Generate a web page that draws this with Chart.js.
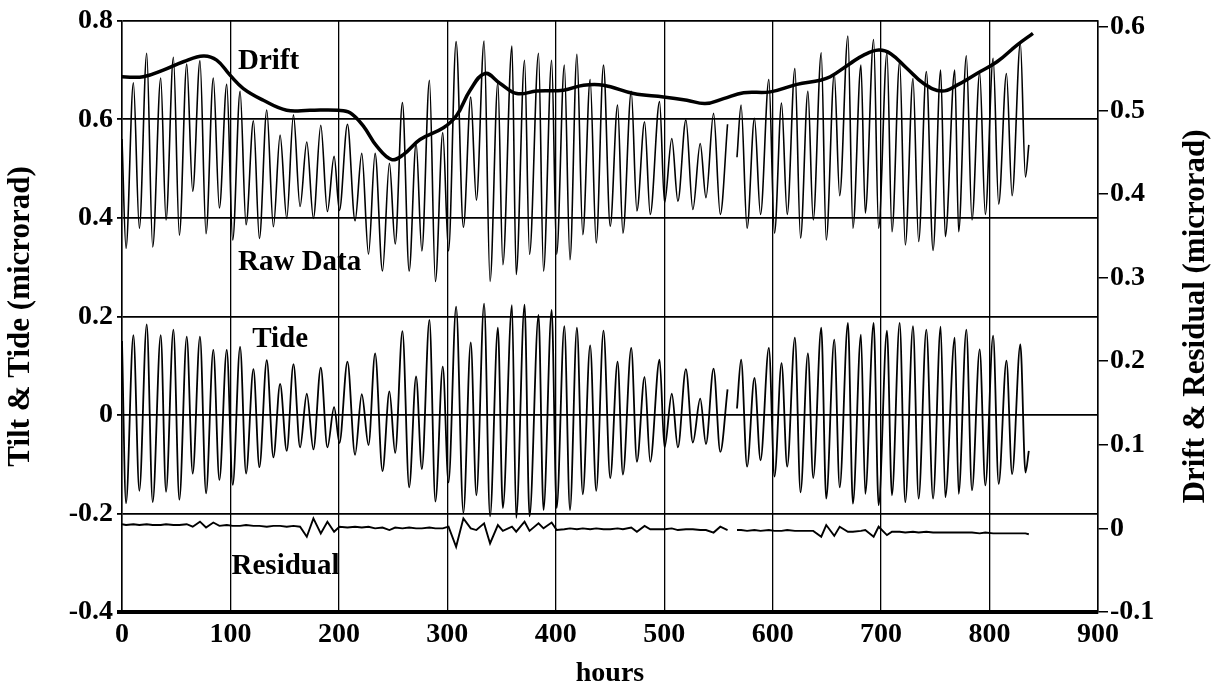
<!DOCTYPE html>
<html>
<head>
<meta charset="utf-8">
<script src="https://cdn.jsdelivr.net/npm/chart.js@4/dist/chart.umd.min.js"></script>
<style>
  body { margin: 0; background: #fff; }
  canvas { display: block; }
</style>
</head>
<body>
<canvas id="tiltChart" width="1218" height="692"></canvas>
<script>
// times of the tidal highs and lows (hours); null slot marks the data gap
var hours = [0, 3.7, 10.5, 16.0, 22.8, 28.3, 35.7, 40.6, 47.4, 52.9,
    59.7, 65.2, 71.9, 77.5, 84.2, 89.8, 96.6, 102.1, 108.9, 114.4,
    121.2, 126.7, 133.5, 139.6, 145.8, 151.9, 158.1, 164.2, 170.4, 176.5,
    183.3, 189.4, 195.6, 200.5, 207.9, 214.9, 221.1, 227.3, 233.4, 240.2,
    246.6, 251.9, 258.6, 264.8, 271.2, 276.5, 283.5, 289.0, 295.8, 301.1,
    308.1, 314.8, 321.6, 326.8, 333.9, 339.4, 346.6, 351.2, 359.6, 363.5,
    371.2, 375.8, 384.1, 388.7, 396.2, 400.8, 407.9, 413.1, 419.5, 424.9,
    431.7, 437.3, 444.0, 450.2, 457.0, 461.9, 469.6, 474.8, 481.9, 487.1,
    495.7, 500.3, 507.0, 512.6, 520.0, 526.4, 533.2, 538.5, 545.5, 551.7,
    558.4, 563, 567.1, 570.9, 576.4, 583.2, 588.8, 596.5, 601.7, 608.2,
    613.4, 620.5, 625.7, 632.5, 637.4, 644.8, 649.4, 656.8, 661.8, 669.4,
    674.0, 681.4, 685.4, 693.1, 697.7, 705.4, 710.0, 717.1, 722.3, 729.4,
    734.6, 741.7, 747.9, 754.9, 759.2, 767.9, 771.5, 778.6, 783.8, 790.9,
    796.1, 803.3, 808.4, 815.6, 820.8, 828.4, 833.1, 836.2];

// raw tilt (left axis)
var rawData = [0.560, 0.338, 0.674, 0.379, 0.734, 0.341, 0.684, 0.396, 0.726, 0.365,
    0.712, 0.454, 0.719, 0.368, 0.684, 0.420, 0.671, 0.355, 0.657, 0.386,
    0.597, 0.358, 0.619, 0.382, 0.568, 0.399, 0.609, 0.423, 0.554, 0.399,
    0.588, 0.413, 0.525, 0.415, 0.590, 0.394, 0.531, 0.326, 0.531, 0.292,
    0.511, 0.347, 0.634, 0.292, 0.552, 0.333, 0.679, 0.271, 0.573, 0.333,
    0.758, 0.381, 0.645, 0.436, 0.759, 0.271, 0.675, 0.305, 0.749, 0.285,
    0.720, 0.326, 0.734, 0.292, 0.720, 0.326, 0.710, 0.315, 0.732, 0.366,
    0.681, 0.349, 0.710, 0.383, 0.629, 0.369, 0.657, 0.414, 0.595, 0.407,
    0.636, 0.431, 0.561, 0.434, 0.599, 0.417, 0.551, 0.441, 0.612, 0.407,
    0.590, null, 0.523, 0.629, 0.379, 0.602, 0.407, 0.681, 0.369, 0.633,
    0.407, 0.703, 0.359, 0.657, 0.396, 0.735, 0.355, 0.693, 0.445, 0.769,
    0.379, 0.710, 0.410, 0.762, 0.379, 0.735, 0.372, 0.717, 0.345, 0.683,
    0.352, 0.697, 0.334, 0.700, 0.362, 0.700, 0.372, 0.729, 0.396, 0.695,
    0.407, 0.724, 0.428, 0.693, 0.445, 0.755, 0.483, 0.548];

// tide (left axis)
var tide = [0.150, -0.179, 0.162, -0.154, 0.184, -0.177, 0.162, -0.156, 0.173, -0.172,
    0.159, -0.119, 0.159, -0.159, 0.132, -0.132, 0.132, -0.142, 0.138, -0.119,
    0.093, -0.106, 0.111, -0.086, 0.063, -0.073, 0.103, -0.066, 0.043, -0.070,
    0.096, -0.066, 0.016, -0.057, 0.108, -0.081, 0.042, -0.061, 0.125, -0.114,
    0.048, -0.077, 0.170, -0.147, 0.078, -0.110, 0.193, -0.176, 0.098, -0.137,
    0.220, -0.199, 0.147, -0.163, 0.226, -0.206, 0.177, -0.189, 0.223, -0.209,
    0.224, -0.206, 0.203, -0.193, 0.213, -0.189, 0.180, -0.193, 0.177, -0.161,
    0.141, -0.154, 0.171, -0.128, 0.108, -0.121, 0.136, -0.095, 0.077, -0.095,
    0.112, -0.066, 0.043, -0.066, 0.093, -0.056, 0.033, -0.059, 0.094, -0.075,
    0.052, null, 0.013, 0.112, -0.105, 0.075, -0.092, 0.136, -0.125, 0.105,
    -0.105, 0.157, -0.157, 0.125, -0.128, 0.177, -0.170, 0.153, -0.147, 0.187,
    -0.180, 0.163, -0.160, 0.187, -0.183, 0.171, -0.163, 0.187, -0.177, 0.180,
    -0.170, 0.173, -0.170, 0.179, -0.167, 0.157, -0.160, 0.173, -0.153, 0.133,
    -0.143, 0.161, -0.140, 0.110, -0.120, 0.143, -0.117, -0.073];

// residual (right axis), same time slots
var residual = [0.005, 0.004, 0.005, 0.004, 0.005, 0.004, 0.004, 0.005, 0.004, 0.004,
    0.005, 0.002, 0.008, 0.001, 0.007, 0.003, 0.004, 0.003, 0.003, 0.004,
    0.003, 0.003, 0.002, 0.003, 0.003, 0.002, 0.003, 0.002, -0.010, 0.012,
    -0.006, 0.008, -0.004, 0.002, 0.001, 0.002, 0.001, 0.002, 0.0, 0.001,
    -0.002, 0.001, 0.0, 0.001, 0.0, 0.0, 0.001, 0.0, 0.0, 0.002,
    -0.022, 0.012, 0.0, -0.002, 0.006, -0.018, 0.004, -0.003, 0.002, -0.004,
    0.008, -0.003, 0.006, 0.0, 0.007, -0.002, -0.001, 0.0, -0.001, 0.0,
    -0.001, 0.0, -0.001, -0.001, 0.0, -0.001, 0.001, -0.004, 0.003, -0.001,
    -0.001, -0.001, 0.0, -0.002, -0.001, -0.001, -0.002, -0.002, -0.005, 0.002,
    -0.002, null, -0.002, -0.002, -0.003, -0.002, -0.003, -0.002, -0.003, -0.003,
    -0.002, -0.003, -0.003, -0.003, -0.003, -0.010, 0.004, -0.009, 0.002, -0.004,
    -0.004, -0.003, -0.002, -0.010, 0.002, -0.008, -0.004, -0.004, -0.005, -0.004,
    -0.005, -0.004, -0.005, -0.005, -0.005, -0.005, -0.005, -0.005, -0.005, -0.006,
    -0.005, -0.006, -0.006, -0.006, -0.006, -0.006, -0.006, -0.007];

// drift curve (right axis)
var driftHours = [0, 19.6, 38, 56.6, 75, 87.3, 99.6, 111.9, 130.3, 151.8,
    173.3, 199.4, 210.3, 222.6, 234.9, 248.7, 259.5, 274.8, 296.4, 308.7,
    321, 334.8, 348.7, 364, 382.5, 407.1, 425.6, 444, 471.7, 499.4,
    520.9, 537.8, 554.7, 573.2, 597.8, 622.4, 643.9, 653.1, 671.6, 683.9,
    697.7, 708.5, 723.9, 739.2, 756.1, 770, 788.4, 806.9, 825.3, 840];
var drift = [0.540, 0.540, 0.548, 0.558, 0.565, 0.560, 0.542, 0.526, 0.512, 0.500,
    0.500, 0.500, 0.497, 0.481, 0.457, 0.441, 0.447, 0.465, 0.479, 0.494,
    0.524, 0.544, 0.532, 0.520, 0.523, 0.524, 0.530, 0.530, 0.520, 0.516,
    0.512, 0.508, 0.514, 0.521, 0.522, 0.531, 0.536, 0.540, 0.556, 0.566,
    0.572, 0.568, 0.550, 0.532, 0.523, 0.530, 0.544, 0.558, 0.578, 0.592];

var hourTicks = [0, 100, 200, 300, 400, 500, 600, 700, 800, 900];
var leftTicks = [-0.4, -0.2, 0, 0.2, 0.4, 0.6, 0.8];
var rightTicks = [-0.1, 0, 0.1, 0.2, 0.3, 0.4, 0.5, 0.6];

var serif = "'Liberation Serif', 'Times New Roman', serif";

function pairs(xs, ys) {
    return xs.map(function(x, i) { return { x: x, y: ys[i] }; });
}
function fmt(v) {
    return Math.abs(v) < 1e-9 ? '0' : v.toFixed(1);
}

// curve names written inside the plot
var curveNames = [
    { text: 'Drift', hour: 107, value: 0.717 },
    { text: 'Raw Data', hour: 107, value: 0.309 },
    { text: 'Tide', hour: 120, value: 0.153 },
    { text: 'Residual', hour: 101, value: -0.308 }
];

var namePlugin = {
    id: 'curveNames',
    afterDatasetsDraw: function(chart) {
        var c = chart.ctx;
        c.save();
        c.fillStyle = '#000';
        c.font = 'bold 29px ' + serif;
        c.textAlign = 'left';
        c.textBaseline = 'middle';
        curveNames.forEach(function(n) {
            c.fillText(n.text, chart.scales.x.getPixelForValue(n.hour), chart.scales.y.getPixelForValue(n.value));
        });
        c.restore();
    },
    // right axis title reads bottom-to-top like the left one
    afterDraw: function(chart) {
        var c = chart.ctx;
        var s = chart.scales.y2;
        c.save();
        c.fillStyle = '#000';
        c.font = 'bold 31px ' + serif;
        c.textAlign = 'center';
        c.textBaseline = 'middle';
        c.translate(1196, (s.top + s.bottom) / 2);
        c.rotate(-Math.PI / 2);
        c.fillText('Drift & Residual (microrad)', 0, 0);
        c.restore();
    }
};

document.addEventListener('DOMContentLoaded', function() {
    var ctx = document.getElementById('tiltChart').getContext('2d');
    new Chart(ctx, {
        type: 'line',
        data: {
            datasets: [{
                label: 'Raw Data',
                data: pairs(hours, rawData),
                yAxisID: 'y',
                borderColor: '#000',
                borderWidth: 1.6,
                cubicInterpolationMode: 'monotone',
                pointRadius: 0
            }, {
                label: 'Tide',
                data: pairs(hours, tide),
                yAxisID: 'y',
                borderColor: '#000',
                borderWidth: 1.8,
                cubicInterpolationMode: 'monotone',
                pointRadius: 0
            }, {
                label: 'Residual',
                data: pairs(hours, residual),
                yAxisID: 'y2',
                borderColor: '#000',
                borderWidth: 1.9,
                tension: 0,
                pointRadius: 0
            }, {
                label: 'Drift',
                data: pairs(driftHours, drift),
                yAxisID: 'y2',
                borderColor: '#000',
                borderWidth: 3.5,
                tension: 0.4,
                pointRadius: 0
            }]
        },
        options: {
            responsive: false,
            animation: false,
            layout: { padding: { top: 17 } },
            plugins: {
                legend: { display: false },
                tooltip: { enabled: false }
            },
            scales: {
                x: {
                    type: 'linear',
                    min: 0,
                    max: 900,
                    afterBuildTicks: function(s) { s.ticks = hourTicks.map(function(v) { return { value: v }; }); },
                    afterFit: function(s) { s.height = 80; },
                    ticks: { color: '#000', padding: 6, maxRotation: 0, font: { family: serif, size: 28, weight: 'bold' } },
                    grid: { color: '#000', lineWidth: 1.3, drawTicks: false },
                    border: { color: '#000', width: 4 },
                    title: { display: true, text: 'hours', color: '#000', padding: { top: 0, bottom: 1 }, font: { family: serif, size: 28, weight: 'bold' } }
                },
                y: {
                    position: 'left',
                    min: -0.4,
                    max: 0.8,
                    afterBuildTicks: function(s) { s.ticks = leftTicks.map(function(v) { return { value: v }; }); },
                    afterFit: function(s) { s.width = 122; },
                    ticks: { color: '#000', padding: 4, callback: fmt, font: { family: serif, size: 28, weight: 'bold' } },
                    grid: {
                        color: '#000',
                        tickLength: 5,
                        lineWidth: function(c) { return c.tick && c.tick.value === -0.4 ? 4 : 1.8; }
                    },
                    border: { color: '#000', width: 1.5 },
                    title: { display: true, text: 'Tilt & Tide (microrad)', color: '#000', padding: { top: 2, bottom: 0 }, font: { family: serif, size: 31, weight: 'bold' } }
                },
                y2: {
                    position: 'right',
                    min: -0.1,
                    max: 0.607,
                    afterBuildTicks: function(s) { s.ticks = rightTicks.map(function(v) { return { value: v }; }); },
                    afterFit: function(s) { s.width = 120; },
                    ticks: { color: '#000', padding: 2, callback: fmt, font: { family: serif, size: 28, weight: 'bold' } },
                    grid: { drawOnChartArea: false, color: '#000', tickLength: 10, lineWidth: 1.5 },
                    border: { color: '#000', width: 1.5 },
                    title: { display: false }
                }
            }
        },
        plugins: [namePlugin]
    });
});
</script>
</body>
</html>
